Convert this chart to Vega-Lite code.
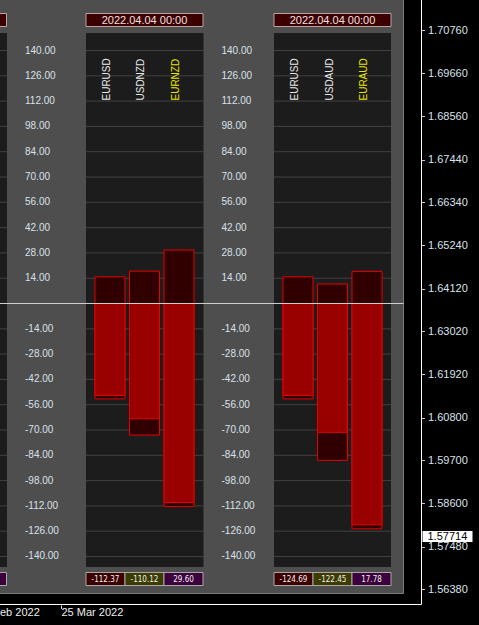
{
  "width": 479,
  "height": 625,
  "autosize": {"type": "none"},
  "padding": 0,
  "background": "#000000",
  "config": {
    "view": {"stroke": null},
    "text": {"font": "Liberation Sans"},
    "locale": {"number": {"decimal": ".", "thousands": ",", "grouping": [3], "currency": ["$", ""], "minus": "-"}}
  },
  "datasets": {
    "bars": [
      {"group": "EURNZD", "pair": "EURUSD", "role": "base", "high": 14.8, "last": -50.9, "low": -52.8},
      {"group": "EURNZD", "pair": "USDNZD", "role": "quote", "high": 17.9, "last": -63.8, "low": -72.8},
      {"group": "EURNZD", "pair": "EURNZD", "role": "cross", "high": 29.60, "last": -110.12, "low": -112.37},
      {"group": "EURAUD", "pair": "EURUSD", "role": "base", "high": 14.8, "last": -50.9, "low": -52.8},
      {"group": "EURAUD", "pair": "USDAUD", "role": "quote", "high": 10.8, "last": -71.3, "low": -86.8},
      {"group": "EURAUD", "pair": "EURAUD", "role": "cross", "high": 17.78, "last": -122.45, "low": -124.69}
    ],
    "panels": [
      {"group": "EURNZD", "time": "2022.04.04 00:00"},
      {"group": "EURAUD", "time": "2022.04.04 00:00"}
    ],
    "levels": [
      {"level": 140}, {"level": 126}, {"level": 112}, {"level": 98}, {"level": 84},
      {"level": 70}, {"level": 56}, {"level": 42}, {"level": 28}, {"level": 14},
      {"level": -14}, {"level": -28}, {"level": -42}, {"level": -56}, {"level": -70},
      {"level": -84}, {"level": -98}, {"level": -112}, {"level": -126}, {"level": -140}
    ],
    "price": [{"price": 1.57714}],
    "one": [{"k": 1}]
  },
  "resolve": {"scale": {"x": "independent", "y": "independent", "xOffset": "independent", "color": "independent", "fill": "independent"}},
  "layer": [
    {
      "layer": [
        {
          "data": {"name": "one"},
          "mark": {"type": "rect", "fill": "#4e4e4e"},
          "encoding": {
            "x": {"datum": 0, "type": "quantitative", "scale": {"domain": [0, 479], "nice": false, "zero": false}, "axis": null},
            "x2": {"datum": 403.5},
            "y": {"datum": 167.945, "type": "quantitative", "scale": {"domain": [-177.906, 167.945], "nice": false, "zero": false}, "axis": null},
            "y2": {"datum": -160.47}
          }
        },
        {
          "data": {"name": "one"},
          "mark": {"type": "rule", "color": "#7a7a7a", "strokeWidth": 1},
          "encoding": {"x": {"datum": 403.5, "type": "quantitative"}, "y": {"datum": 167.945, "type": "quantitative"}, "y2": {"datum": -160.47}}
        },
        {
          "data": {"name": "one"},
          "mark": {"type": "rule", "color": "#7a7a7a", "strokeWidth": 1},
          "encoding": {"x": {"datum": 0, "type": "quantitative"}, "x2": {"datum": 403.5}, "y": {"datum": -160.47, "type": "quantitative"}}
        },
        {
          "data": {"name": "one"},
          "mark": {"type": "rect", "fill": "#1c1c1c"},
          "encoding": {"x": {"datum": -2, "type": "quantitative"}, "x2": {"datum": 7}, "y": {"datum": 149.69, "type": "quantitative"}, "y2": {"datum": -145.81}}
        },
        {
          "data": {"name": "one"},
          "mark": {"type": "rect", "fill": "#1c1c1c"},
          "encoding": {"x": {"datum": 86, "type": "quantitative"}, "x2": {"datum": 203.5}, "y": {"datum": 149.69, "type": "quantitative"}, "y2": {"datum": -145.81}}
        },
        {
          "data": {"name": "one"},
          "mark": {"type": "rect", "fill": "#1c1c1c"},
          "encoding": {"x": {"datum": 274, "type": "quantitative"}, "x2": {"datum": 391}, "y": {"datum": 149.69, "type": "quantitative"}, "y2": {"datum": -145.81}}
        },
        {
          "data": {"name": "levels"},
          "mark": {"type": "rule", "color": "#414141", "strokeWidth": 1},
          "encoding": {"x": {"datum": -2, "type": "quantitative"}, "x2": {"datum": 7}, "y": {"field": "level", "type": "quantitative"}}
        },
        {
          "data": {"name": "levels"},
          "mark": {"type": "rule", "color": "#414141", "strokeWidth": 1},
          "encoding": {"x": {"datum": 86, "type": "quantitative"}, "x2": {"datum": 203.5}, "y": {"field": "level", "type": "quantitative"}}
        },
        {
          "data": {"name": "levels"},
          "mark": {"type": "rule", "color": "#414141", "strokeWidth": 1},
          "encoding": {"x": {"datum": 274, "type": "quantitative"}, "x2": {"datum": 391}, "y": {"field": "level", "type": "quantitative"}}
        },
        {
          "data": {"name": "levels"},
          "mark": {"type": "text", "align": "left", "baseline": "middle", "fontSize": 10, "color": "#d9e1ea"},
          "encoding": {"x": {"datum": 25, "type": "quantitative"}, "y": {"field": "level", "type": "quantitative"}, "text": {"field": "level", "type": "quantitative", "format": ".2f"}}
        },
        {
          "data": {"name": "levels"},
          "mark": {"type": "text", "align": "left", "baseline": "middle", "fontSize": 10, "color": "#d9e1ea"},
          "encoding": {"x": {"datum": 221.5, "type": "quantitative"}, "y": {"field": "level", "type": "quantitative"}, "text": {"field": "level", "type": "quantitative", "format": ".2f"}}
        },
        {
          "data": {"name": "one"},
          "mark": {"type": "rect", "fill": "#3c0000", "stroke": "#b8a4a4", "strokeWidth": 1},
          "encoding": {"x": {"datum": -3, "type": "quantitative"}, "x2": {"datum": 6.5}, "y": {"datum": 160.47, "type": "quantitative"}, "y2": {"datum": 153.28}}
        },
        {
          "data": {"name": "one"},
          "mark": {"type": "rect", "fill": "#3c003c", "stroke": "#a8a8a8", "strokeWidth": 1},
          "encoding": {"x": {"datum": -3, "type": "quantitative"}, "x2": {"datum": 6.5}, "y": {"datum": -148.85, "type": "quantitative"}, "y2": {"datum": -156.05}}
        },
        {
          "data": {"name": "one"},
          "mark": {"type": "rule", "color": "#ffffff", "strokeWidth": 1},
          "encoding": {"x": {"datum": 421.5, "type": "quantitative"}, "y": {"datum": 167.945, "type": "quantitative"}, "y2": {"datum": -166.56}}
        },
        {
          "data": {"name": "one"},
          "mark": {"type": "rule", "color": "#ffffff", "strokeWidth": 1},
          "encoding": {"x": {"datum": 0, "type": "quantitative"}, "x2": {"datum": 421.5}, "y": {"datum": -166.56, "type": "quantitative"}}
        },
        {
          "data": {"name": "one"},
          "mark": {"type": "rule", "color": "#d0d0d0", "strokeWidth": 1},
          "encoding": {"x": {"datum": 61.5, "type": "quantitative"}, "y": {"datum": -167.08, "type": "quantitative"}, "y2": {"datum": -169.05}}
        },
        {
          "data": {"name": "one"},
          "mark": {"type": "text", "align": "left", "baseline": "middle", "fontSize": 11, "color": "#eeeeee", "text": "eb 2022"},
          "encoding": {"x": {"datum": 0, "type": "quantitative"}, "y": {"datum": -171.54, "type": "quantitative"}}
        },
        {
          "data": {"name": "one"},
          "mark": {"type": "text", "align": "left", "baseline": "middle", "fontSize": 11, "color": "#eeeeee", "text": "25 Mar 2022"},
          "encoding": {"x": {"datum": 61.5, "type": "quantitative"}, "y": {"datum": -171.54, "type": "quantitative"}}
        }
      ]
    },
    {
      "layer": [
        {
          "data": {"name": "panels"},
          "mark": {"type": "rect", "fill": "#3c0000", "stroke": "#b8a4a4", "strokeWidth": 1},
          "encoding": {
            "x": {"field": "group", "type": "nominal", "scale": {"type": "band", "domain": ["EURNZD", "EURAUD"], "range": [86, 391], "paddingInner": 0.3777, "paddingOuter": 0}, "axis": null},
            "y": {"datum": 160.47, "type": "quantitative", "scale": {"domain": [-177.906, 167.945], "nice": false, "zero": false}, "axis": null},
            "y2": {"datum": 153.28}
          }
        },
        {
          "data": {"name": "panels"},
          "mark": {"type": "text", "align": "center", "baseline": "middle", "fontSize": 11, "color": "#f0e0e0"},
          "encoding": {
            "x": {"field": "group", "type": "nominal"},
            "y": {"datum": 156.6, "type": "quantitative"},
            "text": {"field": "time", "type": "nominal"}
          }
        },
        {
          "data": {"name": "bars"},
          "mark": {"type": "bar", "fill": "#300000", "stroke": "#e60000", "strokeWidth": 1},
          "encoding": {
            "x": {"field": "group", "type": "nominal"},
            "xOffset": {"field": "role", "type": "nominal", "scale": {"domain": ["base", "quote", "cross"], "paddingInner": 0.13, "paddingOuter": 0.26}},
            "y": {"field": "high", "type": "quantitative"},
            "y2": {"field": "low"}
          }
        },
        {
          "data": {"name": "bars"},
          "mark": {"type": "bar", "fill": "#990000", "stroke": "#e60000", "strokeWidth": 1},
          "encoding": {
            "x": {"field": "group", "type": "nominal"},
            "xOffset": {"field": "role", "type": "nominal"},
            "y": {"field": "last", "type": "quantitative"},
            "y2": {"datum": 0}
          }
        },
        {
          "data": {"name": "bars"},
          "mark": {"type": "text", "angle": 270, "align": "left", "baseline": "alphabetic", "fontSize": 10},
          "encoding": {
            "x": {"field": "group", "type": "nominal"},
            "xOffset": {"field": "role", "type": "nominal"},
            "y": {"datum": 112.33, "type": "quantitative"},
            "text": {"field": "pair", "type": "nominal"},
            "color": {"field": "role", "type": "nominal", "scale": {"domain": ["base", "quote", "cross"], "range": ["#e8e8e8", "#e8e8e8", "#e6e600"]}, "legend": null}
          }
        }
      ]
    },
    {
      "data": {"name": "bars"},
      "transform": [
        {"filter": {"field": "role", "equal": "cross"}},
        {"fold": ["low", "last", "high"], "as": ["key", "value"]}
      ],
      "layer": [
        {
          "mark": {"type": "bar", "stroke": "#a8a8a8", "strokeWidth": 1},
          "encoding": {
            "x": {"field": "group", "type": "nominal", "scale": {"type": "band", "domain": ["EURNZD", "EURAUD"], "range": [86, 391], "paddingInner": 0.3777, "paddingOuter": 0}, "axis": null},
            "xOffset": {"field": "key", "type": "nominal", "scale": {"domain": ["low", "last", "high"], "paddingInner": 0, "paddingOuter": 0}},
            "y": {"datum": -148.85, "type": "quantitative", "scale": {"domain": [-177.906, 167.945], "nice": false, "zero": false}, "axis": null},
            "y2": {"datum": -156.05},
            "fill": {"field": "key", "type": "nominal", "scale": {"domain": ["low", "last", "high"], "range": ["#3c0000", "#3c3c00", "#3c003c"]}, "legend": null}
          }
        },
        {
          "mark": {"type": "text", "align": "center", "baseline": "middle", "fontSize": 8, "font": "DejaVu Sans Condensed, Liberation Sans", "color": "#f2f2f2"},
          "encoding": {
            "x": {"field": "group", "type": "nominal"},
            "xOffset": {"field": "key", "type": "nominal"},
            "y": {"datum": -153.28, "type": "quantitative"},
            "text": {"field": "value", "type": "quantitative", "format": ".2f"}
          }
        }
      ]
    },
    {
      "data": {"name": "one"},
      "mark": {"type": "rule", "color": "#cfcfcf", "strokeWidth": 1},
      "encoding": {
        "x": {"datum": 0, "type": "quantitative", "scale": {"domain": [0, 479], "nice": false, "zero": false}, "axis": null},
        "x2": {"datum": 403.5},
        "y": {"datum": 0, "type": "quantitative", "scale": {"domain": [-177.906, 167.945], "nice": false, "zero": false}, "axis": null}
      }
    },
    {
      "data": {"name": "price"},
      "layer": [
        {
          "mark": {"type": "rect", "fill": "#ffffff"},
          "encoding": {
            "x": {"datum": 422.5, "type": "quantitative", "scale": {"domain": [0, 479], "nice": false, "zero": false}, "axis": null},
            "x2": {"datum": 472.5},
            "y": {
              "datum": 1.57885, "type": "quantitative",
              "scale": {"domain": [1.554666, 1.715446], "nice": false, "zero": false},
              "axis": {
                "orient": "right", "offset": -57.5, "title": null, "domain": false, "grid": false,
                "values": [1.7076, 1.6966, 1.6856, 1.6744, 1.6634, 1.6524, 1.6412, 1.6302, 1.6192, 1.608, 1.597, 1.586, 1.5748, 1.5638],
                "format": ".5f", "labelColor": "#d9e1ea", "labelFont": "Liberation Sans", "labelFontSize": 11,
                "tickColor": "#c8c8c8", "tickSize": 3, "labelPadding": 3, "labelOverlap": false, "labelFlush": false
              }
            },
            "y2": {"datum": 1.57602}
          }
        },
        {
          "mark": {"type": "text", "align": "left", "baseline": "middle", "fontSize": 11, "color": "#000000", "dy": -1},
          "encoding": {
            "x": {"datum": 427.5, "type": "quantitative"},
            "y": {"field": "price", "type": "quantitative"},
            "text": {"field": "price", "type": "quantitative", "format": ".5f"}
          }
        }
      ]
    }
  ]
}
